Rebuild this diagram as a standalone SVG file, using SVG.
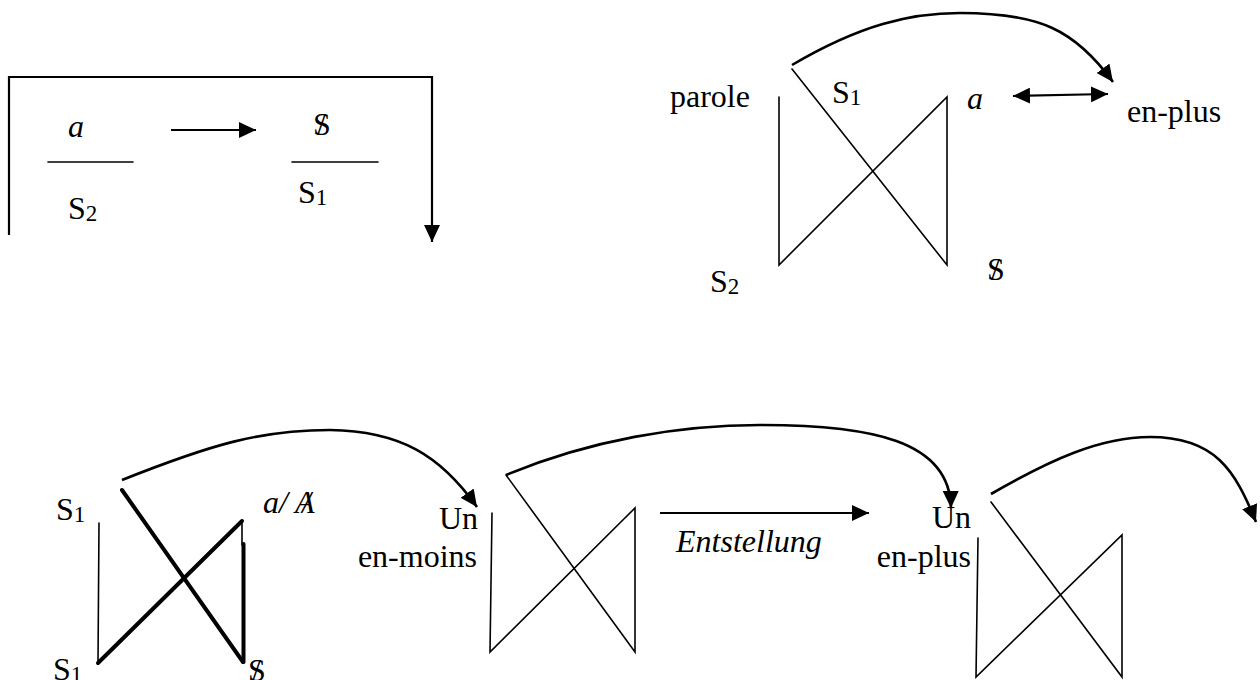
<svg xmlns="http://www.w3.org/2000/svg" width="1260" height="680" viewBox="0 0 1260 680">
<style>
text{font-family:"Liberation Serif","Times New Roman",serif;font-size:32px;fill:#000}
.it{font-style:italic}
.sub{font-size:23px}
.ln{stroke:#000;stroke-width:1.6;fill:none;stroke-linecap:round;stroke-linejoin:miter}
.thick{stroke:#000;stroke-width:4;fill:none;stroke-linecap:round}
.con{stroke:#000;stroke-width:2.6;fill:none}
.ar{stroke:#000;stroke-width:2.2;fill:none}
</style>
<defs>
<marker id="ah" markerUnits="userSpaceOnUse" markerWidth="18" markerHeight="16" viewBox="0 0 18 16" refX="17" refY="8" orient="auto">
<path d="M0,0 L17,8 L0,16 Z" fill="#000"/>
</marker>
<marker id="ahs" markerUnits="userSpaceOnUse" markerWidth="18" markerHeight="16" viewBox="0 0 18 16" refX="17" refY="8" orient="auto-start-reverse">
<path d="M0,0 L17,8 L0,16 Z" fill="#000"/>
</marker>
</defs>
<rect width="1260" height="680" fill="#fff"/>

<g id="box">
<line class="ln" x1="48" y1="162" x2="133" y2="162"/>
<line class="ln" x1="292" y1="162" x2="378" y2="162"/>
<text class="it" x="68" y="137">a</text>
<text x="68" y="219">S<tspan class="sub" dy="2">2</tspan></text>
<g id="barS1"><text x="313" y="135">S</text><text x="317" y="135">/</text></g>
<text x="298" y="203">S<tspan class="sub" dy="2">1</tspan></text>
</g>

<g id="schema-top">
<text x="670" y="107">parole</text>
<text x="832" y="103">S<tspan class="sub" dy="2">1</tspan></text>
<text class="it" x="967" y="109">a</text>
<text x="1127" y="122">en-plus</text>
<text x="710" y="292">S<tspan class="sub" dy="2">2</tspan></text>
<g id="barS2"><text x="987" y="280">S</text><text x="991" y="280">/</text></g>
<path class="ln" d="M779,97 L779,265 L947,97 L947,265 L792,69"/>
</g>

<g id="schema-bl">
<text x="56" y="520">S<tspan class="sub" dy="2">1</tspan></text>
<text x="53" y="680">S<tspan class="sub" dy="2">1</tspan></text>
<text class="it" x="263" y="513">a/ </text>
<g id="barA"><text class="it" x="295" y="513">A</text><text class="it" x="302" y="513">/</text></g>
<g id="barS3"><text x="248" y="681">S</text><text x="252" y="681">/</text></g>
<line class="ln" x1="99" y1="523" x2="98" y2="663"/>
<line class="thick" x1="98" y1="663" x2="242" y2="521"/>
<line class="thick" x1="122" y1="490" x2="243" y2="662"/>
<line class="ln" x1="242" y1="520" x2="242" y2="545"/>
<line class="thick" x1="243.5" y1="544" x2="243.5" y2="662"/>
</g>

<g id="schema-mid">
<text x="478" y="529" text-anchor="end">Un</text>
<text x="477" y="567" text-anchor="end">en-moins</text>
<path class="ln" d="M492,513 L490,652 L635,508 L635,652 L506,475"/>
</g>

<g id="label-entstellung">
<text class="it" x="676" y="552">Entstellung</text>
</g>

<g id="schema-right">
<text x="971" y="528" text-anchor="end">Un</text>
<text x="971" y="567" text-anchor="end">en-plus</text>
<path class="ln" d="M978,538 L976,677 L1122,535 L1122,677 L991,502"/>
</g>

<g id="connectors">
<path class="ar" d="M9,235 L9,77 L432,77 L432,242" marker-end="url(#ah)"/>
<line class="ar" x1="171" y1="130" x2="256" y2="130" marker-end="url(#ah)"/>
<path class="con" d="M792,65 C860,25 910,13 960,13 C1040,13 1075,30 1113,82" marker-end="url(#ah)"/>
<line class="ar" x1="1013" y1="96" x2="1108" y2="94" marker-start="url(#ahs)" marker-end="url(#ah)"/>
<path class="con" d="M122,480 C210,445 260,430 330,430 C400,431 440,455 477,507" marker-end="url(#ah)"/>
<path class="con" d="M506,475 C590,440 680,425 760,425 C870,425 950,440 951,508" marker-end="url(#ah)"/>
<line class="ar" x1="660" y1="513" x2="869" y2="513" marker-end="url(#ah)"/>
<path class="con" d="M991,494 C1050,460 1100,437 1150,437 C1215,437 1235,470 1256,522" marker-end="url(#ah)"/>
</g>
</svg>
